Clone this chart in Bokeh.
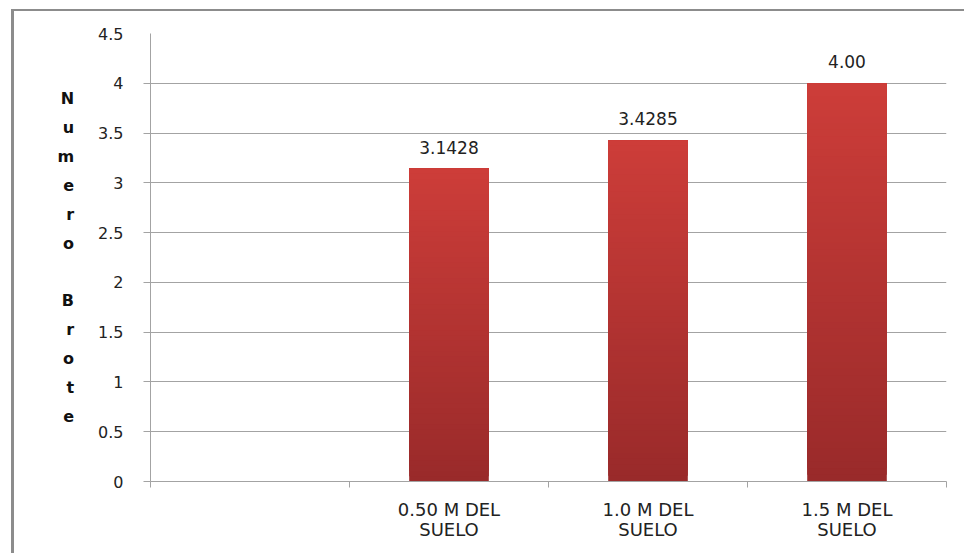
from bokeh.plotting import figure
from bokeh.models import FixedTicker, Range1d, ColumnDataSource
from bokeh.core.properties import value
from bokeh.embed import file_html
from bokeh.resources import INLINE

# ---- data ----
categories = ["", "0.50 M DEL\nSUELO", "1.0 M DEL\nSUELO", "1.5 M DEL\nSUELO"]
values = [None, 3.1428, 3.4285, 4.00]
value_labels = ["", "3.1428", "3.4285", "4.00"]
y_ticks = [0, 0.5, 1, 1.5, 2, 2.5, 3, 3.5, 4, 4.5]
y_tick_labels = ["0", "0.5", "1", "1.5", "2", "2.5", "3", "3.5", "4", "4.5"]
y_title = "Numero Brote"

FONT = "DejaVu Sans"
GRID = "#a3a3a3"
TOP_COLOR = (205, 61, 57)
BOTTOM_COLOR = (153, 42, 42)

n = len(categories)
centers = [i + 0.5 for i in range(n)]

p = figure(frame_width=796, frame_height=448,
           x_range=Range1d(0, n), y_range=Range1d(0, 4.5),
           output_backend="svg", toolbar_location=None,
           min_border_left=136, min_border_right=18,
           min_border_top=22, min_border_bottom=72)
p.margin = (9, 0, 0, 11)
p.styles = {"border-left": "3px solid #8c8c8c", "border-top": "2px solid #8c8c8c"}
p.outline_line_color = None
p.background_fill_color = "white"
p.border_fill_color = "white"

# gradient bars: overlapping layers from each value, darker at the base
N = 60
xs, bots, tops, cols = [], [], [], []
for c, v in zip(centers, values):
    if v is None:
        continue
    for k in range(N):
        f0 = k / N
        t = (k + 0.5) / N
        r = round(BOTTOM_COLOR[0] + (TOP_COLOR[0] - BOTTOM_COLOR[0]) * t)
        g = round(BOTTOM_COLOR[1] + (TOP_COLOR[1] - BOTTOM_COLOR[1]) * t)
        b = round(BOTTOM_COLOR[2] + (TOP_COLOR[2] - BOTTOM_COLOR[2]) * t)
        xs.append(c)
        bots.append(v * f0)
        tops.append(v)
        cols.append("#%02x%02x%02x" % (r, g, b))
src = ColumnDataSource(dict(x=xs, bottom=bots, top=tops, color=cols))
p.vbar(x="x", bottom="bottom", top="top", width=0.4, fill_color="color",
       line_color=None, source=src)

lab_x = [c for c, v in zip(centers, values) if v is not None]
lab_y = [v for v in values if v is not None]
lab_t = [t for t, v in zip(value_labels, values) if v is not None]
p.text(x=lab_x, y=lab_y, text=lab_t, text_align="center", text_baseline="bottom",
       y_offset=-15, text_font=value(FONT), text_font_size="17px", text_color="#222222")

# grid
p.xgrid.visible = False
p.ygrid.ticker = FixedTicker(ticks=y_ticks[1:-1])
p.ygrid.grid_line_color = GRID
p.ygrid.grid_line_width = 1

# y axis
ya = p.yaxis[0]
ya.ticker = FixedTicker(ticks=y_ticks, minor_ticks=y_ticks[:-1])
ya.major_label_overrides = dict(zip(y_ticks, y_tick_labels))
ya.major_tick_out = 0
ya.major_tick_in = 0
ya.minor_tick_out = 7
ya.minor_tick_in = 0
ya.minor_tick_line_color = GRID
ya.axis_line_color = GRID
ya.major_label_standoff = 20
ya.major_label_text_font = FONT
ya.major_label_text_font_size = "16px"
ya.major_label_text_color = "#222222"
ya.axis_label = "\n".join(list(y_title))
ya.axis_label_orientation = "horizontal"
ya.axis_label_text_font = "DejaVu Sans"
ya.axis_label_text_font_style = "bold"
ya.axis_label_text_font_size = "16px"
ya.axis_label_text_line_height = 1.52
ya.axis_label_text_color = "#111111"
ya.axis_label_standoff = 21

# x axis
xa = p.xaxis[0]
xa.ticker = FixedTicker(ticks=centers, minor_ticks=list(range(n + 1)))
xa.major_label_overrides = dict(zip(centers, categories))
xa.major_tick_out = 0
xa.major_tick_in = 0
xa.minor_tick_out = 6
xa.minor_tick_in = 0
xa.minor_tick_line_color = GRID
xa.axis_line_color = GRID
xa.major_label_standoff = 11
xa.major_label_text_font = FONT
xa.major_label_text_font_size = "18px"
xa.major_label_text_color = "#222222"
xa.major_label_text_line_height = 0.98

open("out.html", "w").write(file_html(p, INLINE))
